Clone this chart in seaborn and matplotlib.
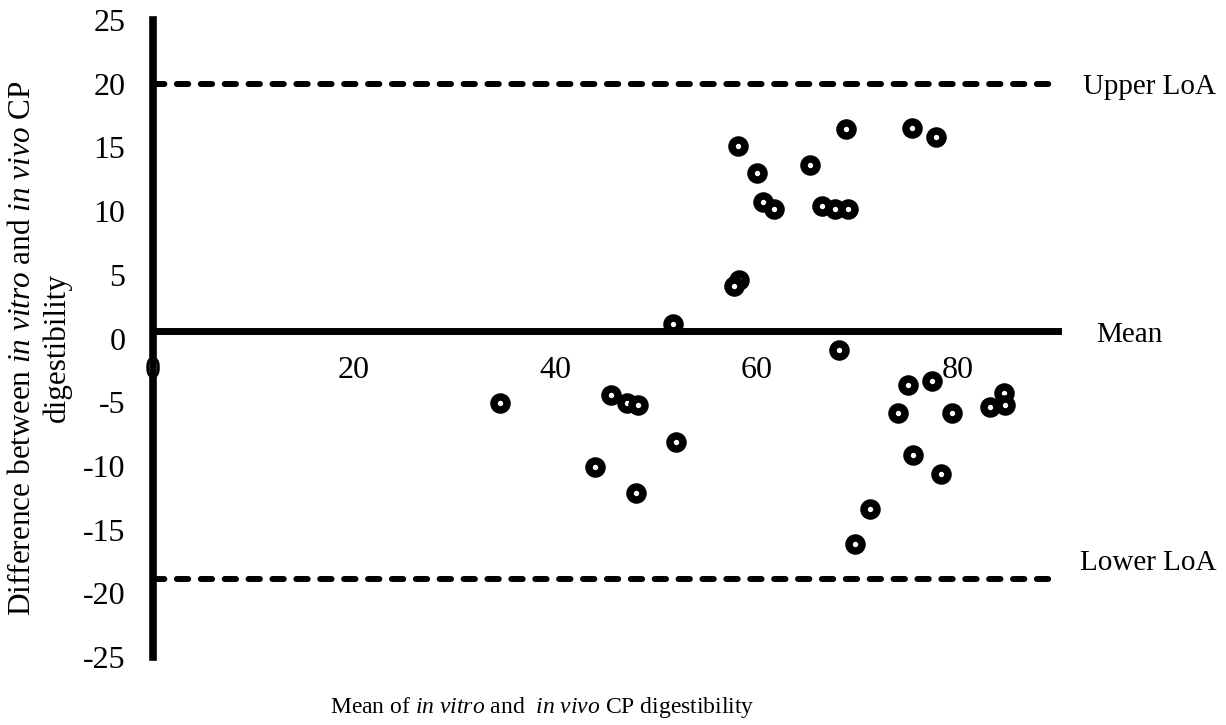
import matplotlib
matplotlib.use("Agg")
import matplotlib.pyplot as plt
import seaborn as sns
import pandas as pd

# ---- data ----
mean_vals = [34.5, 45.5, 47.1, 48.2, 52.0, 44.0, 48.0, 51.7, 68.2,
             58.2, 60.1, 60.7, 61.8, 65.3, 66.5, 67.8, 69.1, 68.9,
             58.3, 57.8, 75.5, 77.9,
             75.1, 77.5, 74.1, 79.5, 83.2, 84.6, 84.7, 75.6, 78.4, 71.3, 69.8]
diff_vals = [-5.1, -4.4, -5.1, -5.2, -8.1, -10.1, -12.1, 1.1, -0.9,
             15.1, 13.0, 10.75, 10.2, 13.6, 10.4, 10.2, 10.15, 16.45,
             4.6, 4.1, 16.5, 15.8,
             -3.65, -3.35, -5.85, -5.85, -5.35, -4.3, -5.2, -9.15, -10.65, -13.4, -16.1]
mean_diff = 0.55
upper_loa = 20.0
lower_loa = -18.9
x_ticks = [0, 20, 40, 60, 80]
y_ticks = [-25, -20, -15, -10, -5, 0, 5, 10, 15, 20, 25]

df = pd.DataFrame({"mean": mean_vals, "diff": diff_vals})

sns.set_theme(style="white")
plt.rcParams["font.family"] = ["Liberation Serif", "DejaVu Serif"]
plt.rcParams["mathtext.fontset"] = "custom"
plt.rcParams["mathtext.rm"] = "Liberation Serif"
plt.rcParams["mathtext.it"] = "Liberation Serif:italic"
for key in ("text.color", "axes.labelcolor", "xtick.color", "ytick.color", "axes.edgecolor"):
    plt.rcParams[key] = "black"

fig = plt.figure(figsize=(12.26, 7.25), dpi=100)
ax = fig.add_axes([153 / 1226, 1 - 657 / 725, (1058 - 153) / 1226, (657 - 20) / 725])

# limits of agreement (dashed)
for yv in (upper_loa, lower_loa):
    ax.plot([0, 90], [yv, yv], color="black", lw=4.3,
            linestyle=(0, (1.9, 2.1)), dash_capstyle="round", zorder=2)

sns.scatterplot(data=df, x="mean", y="diff", ax=ax, marker="o", s=88,
                facecolor="white", edgecolor="black", linewidth=5.4, zorder=4,
                legend=False)

ax.set_xlim(0, 90)
ax.set_ylim(-25, 25)
ax.set_xticks(x_ticks)
ax.set_yticks(y_ticks)
ax.set_xticklabels([str(v) for v in x_ticks])
ax.set_yticklabels([str(v) for v in y_ticks])

for s in ("top", "right"):
    ax.spines[s].set_visible(False)
ax.spines["bottom"].set_position(("data", mean_diff))
for s in ("left", "bottom"):
    ax.spines[s].set_linewidth(5.0)
    ax.spines[s].set_color("black")
    ax.spines[s].set_zorder(3)
ax.spines["left"].set_linewidth(5.5)

ax.tick_params(axis="both", direction="inout", length=13.5, width=4.5,
               colors="black", labelsize=23)
ax.tick_params(axis="y", pad=13)
ax.tick_params(axis="x", pad=11)
ax.set_xlabel("")
ax.set_ylabel("")
ax.set_facecolor("white")

# right-side annotations
ax.text(92.5, upper_loa - 0.25, "Upper LoA", fontsize=21, va="center", ha="left", clip_on=False)
ax.text(93.8, mean_diff - 0.3, "Mean", fontsize=21, va="center", ha="left", clip_on=False)
ax.text(92.2, -17.65, "Lower LoA", fontsize=21, va="center", ha="left", clip_on=False)

# axis titles
fig.text(542 / 1226, 1 - 708 / 725,
         r"Mean of $\it{in\ vitro}$ and  $\it{in\ vivo}$ CP digestibility",
         fontsize=17, ha="center", va="center")
fig.text(40 / 1226, 1 - 348 / 725,
         "Difference between $\\it{in\\ vitro}$ and $\\it{in\\ vivo}$ CP\ndigestibility",
         fontsize=22.5, ha="center", va="center", rotation=90, linespacing=1.2)

fig.savefig("out.png", dpi=100, facecolor="white")
